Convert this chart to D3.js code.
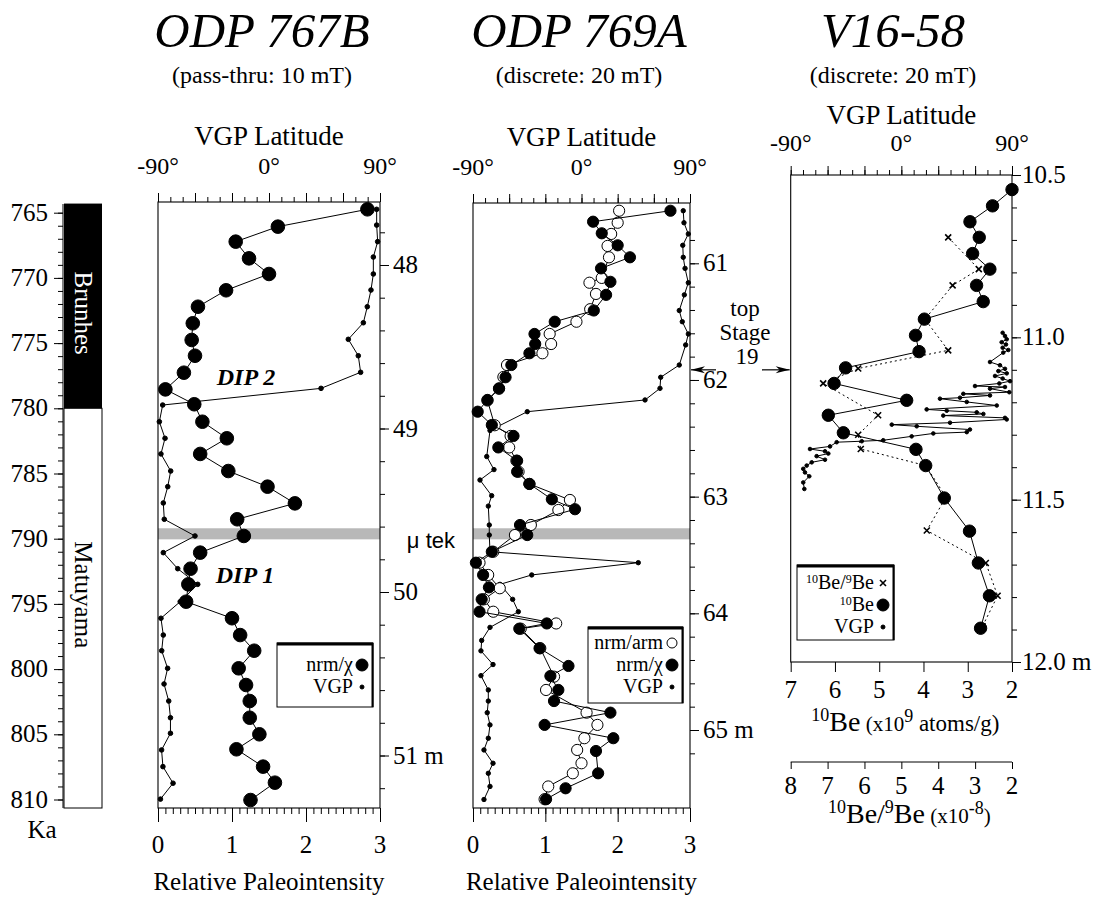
<!DOCTYPE html>
<html>
<head>
<meta charset="utf-8">
<script src="https://cdn.jsdelivr.net/npm/d3@7"></script>
<style>
body { margin: 0; background: #fff; }
svg { display: block; }
text { font-family: "Liberation Serif", "Times New Roman", serif; fill: #000; }
</style>
</head>
<body>
<svg id="chart" width="1099" height="897"></svg>
<script>
// age axis (ka)
var ageTicks = [765, 770, 775, 780, 785, 790, 795, 800, 805, 810];

// ODP 767B: [age ka, nrm/chi] and [age ka, VGP latitude]
var p1Nrm = [[764.74,2.83],[766.07,1.62],[767.22,1.05],[768.5,1.23],[769.7,1.5],[770.95,0.92],[772.21,0.54],[773.48,0.47],[774.76,0.455],[775.97,0.5],[777.27,0.35],[778.55,0.1],[779.69,0.49],[781.03,0.6],[782.3,0.93],[783.5,0.57],[784.81,0.95],[786.01,1.48],[787.29,1.85],[788.51,1.07],[789.79,1.16],[791.07,0.57],[792.3,0.44],[793.5,0.41],[794.83,0.38],[796.1,1.0],[797.39,1.11],[798.59,1.3],[799.94,1.09],[801.22,1.19],[802.45,1.24],[803.73,1.24],[805.0,1.37],[806.15,1.06],[807.48,1.42],[808.71,1.58],[810.04,1.25]];
var p1Vgp = [[764.74,87.3],[765.95,87.3],[767.22,88.1],[768.4,84.6],[769.7,84.6],[770.93,82.7],[772.21,79.7],[773.44,76.5],[774.71,64.3],[775.97,72.4],[777.24,74.3],[778.47,42.2],[779.75,-86.2],[781.03,-88.9],[782.3,-84.3],[783.5,-87.6],[784.81,-79.7],[786.01,-82.1],[787.26,-85.7],[788.51,-84.9],[789.79,-60],[791.07,-85.7],[792.3,-74],[793.5,-57.8],[794.83,-72],[796.1,-87.6],[797.39,-85.7],[798.59,-87],[799.94,-82.2],[801.14,-85.1],[802.45,-81.3],[803.73,-79.9],[804.92,-79.9],[806.2,-87.1],[807.48,-86],[808.75,-77.8],[809.97,-88]];
var p1Depth = [48, 49, 50, 51];

// ODP 769A: nrm/chi, nrm/arm, VGP
var p2Nrm = [[764.85,2.73],[765.69,1.66],[766.58,1.78],[767.5,2.0],[768.42,2.17],[769.27,1.77],[770.3,1.9],[771.3,1.84],[772.5,1.67],[773.36,1.13],[774.3,0.85],[775.07,0.86],[775.78,0.78],[776.68,0.53],[777.62,0.45],[778.47,0.36],[779.36,0.2],[780.26,0.065],[781.28,0.26],[782.12,0.56],[783.0,0.35],[784.02,0.61],[784.86,0.61],[785.8,0.78],[786.98,1.09],[787.74,1.41],[788.95,0.65],[789.72,0.75],[791.0,0.26],[791.84,0.04],[792.78,0.14],[793.73,0.22],[794.65,0.12],[795.6,0.09],[796.5,1.02],[796.9,0.64],[798.4,0.92],[799.76,1.32],[800.53,1.07],[801.6,1.18],[802.45,1.12],[803.34,1.9],[804.28,0.99],[805.3,1.94],[806.28,1.7],[807.99,1.73],[809.14,1.28],[809.98,1.01]];
var p2Arm = [[764.85,2.02],[765.77,2.0],[766.63,1.91],[767.55,1.86],[768.42,1.88],[770.0,1.78],[770.37,1.61],[771.23,1.7],[772.4,1.62],[773.36,1.43],[774.3,1.06],[775.07,1.08],[775.78,0.96],[776.68,0.47],[777.6,0.42],[778.5,0.36],[779.4,0.2],[781.3,0.3],[782.12,0.52],[783.0,0.5],[784.02,0.6],[784.86,0.63],[785.8,0.78],[787.03,1.34],[787.8,1.18],[788.95,0.8],[789.72,0.58],[791.0,0.28],[791.84,0.09],[792.78,0.21],[793.8,0.37],[794.65,0.15],[795.6,0.28],[796.5,1.15],[796.9,0.66],[798.4,0.93],[800.58,1.12],[801.6,1.01],[803.34,1.57],[804.28,1.72],[805.3,1.54],[806.2,1.44],[807.22,1.5],[807.99,1.38],[809.0,1.04],[809.98,0.99]];
var p2Vgp = [[764.85,84.4],[765.77,85],[766.63,88.6],[767.5,84],[768.42,84.4],[769.27,85.9],[770.37,88.6],[771.3,85.3],[772.5,81.1],[773.36,83.6],[774.3,88.6],[775.14,86.4],[776.68,81.1],[777.62,65.7],[778.47,65.1],[779.36,52.7],[780.26,-45],[781.7,-75.9],[783.7,-78.6],[784.7,-72.6],[785.5,-84.2],[786.7,-74.5],[787.5,-77.3],[788.95,-76.5],[789.72,-76.5],[791.0,-75.9],[791.84,47.1],[792.78,-41.3],[793.5,-67.6],[794.65,-57.1],[795.6,-52.4],[796.8,-75.9],[797.8,-82.8],[798.6,-83.4],[799.65,-73.4],[800.5,-83.4],[801.6,-77.3],[802.45,-77.3],[803.34,-78.2],[804.28,-75.9],[805.3,-77.3],[806.2,-80.9],[807.22,-73.4],[807.99,-77.3],[809.0,-75.9],[810.0,-80.9]];
var p2Depth = [61, 62, 63, 64, 65];

// V16-58: [depth m, 10Be], [depth m, 10Be/9Be], [depth m, VGP latitude]
var p3Be = [[10.545,2.0],[10.595,2.44],[10.644,2.95],[10.692,2.74],[10.742,2.89],[10.79,2.5],[10.84,2.8],[10.89,2.65],[10.944,3.98],[10.994,4.18],[11.044,4.1],[11.094,5.76],[11.142,6.02],[11.194,4.38],[11.24,6.15],[11.294,5.81],[11.345,4.17],[11.395,3.95],[11.495,3.53],[11.597,2.96],[11.695,2.76],[11.796,2.51],[11.896,2.71]];
var p3Ratio = [[10.692,3.73],[10.79,2.9],[10.84,3.61],[10.944,4.36],[11.04,3.73],[11.096,6.17],[11.142,7.12],[11.24,5.63],[11.3,6.17],[11.344,6.1],[11.395,4.34],[11.492,3.79],[11.595,4.31],[11.695,2.71],[11.796,2.39],[11.89,2.8]];
var p3Vgp = [[10.986,82.4],[10.996,84.3],[11.006,85.7],[11.015,81.6],[11.022,85.1],[11.032,82.4],[11.039,87.0],[11.047,82.9],[11.076,72.1],[11.086,80.2],[11.097,84.3],[11.104,78.9],[11.111,85.7],[11.119,76.2],[11.127,82.4],[11.135,88.4],[11.142,79.7],[11.15,59.9],[11.153,84.3],[11.158,72.1],[11.169,87.8],[11.174,50.4],[11.179,72.1],[11.186,47.7],[11.189,31.4],[11.199,53.2],[11.21,77.6],[11.222,20.6],[11.226,36.9],[11.231,61.3],[11.236,66.7],[11.241,34.1],[11.248,84.3],[11.253,85.7],[11.263,39.6],[11.269,-7.8],[11.274,12.5],[11.284,55.8],[11.292,53.2],[11.296,26.0],[11.305,8.4],[11.317,-14.7],[11.32,-32.2],[11.323,-52.6],[11.336,-58.0],[11.344,-74.3],[11.351,-62.1],[11.358,-59.4],[11.366,-68.9],[11.377,-62.1],[11.385,-72.9],[11.395,-77.0],[11.405,-79.8],[11.416,-78.4],[11.428,-74.9],[11.447,-79.8],[11.467,-78.9]];
var p3Depth = [10.5, 11.0, 11.5, 12.0];
var beTicks = [7, 6, 5, 4, 3, 2];
var ratioTicks = [8, 7, 6, 5, 4, 3, 2];
var vgpLabels = [-90, 0, 90];
var intTicks = [0, 1, 2, 3];

var svg = d3.select("#chart");

var yAge = d3.scaleLinear().domain([765, 810]).range([212.7, 799.5]);

var p1 = {x0: 158, x1: 380, y0: 202, y1: 808};
var p2 = {x0: 473, x1: 690, y0: 203, y1: 808};
var p3 = {x0: 790.7, x1: 1012, y0: 175, y1: 662};

var xInt1 = d3.scaleLinear().domain([0, 3]).range([p1.x0, p1.x1]);
var xVgp1 = d3.scaleLinear().domain([-90, 90]).range([p1.x0, p1.x1]);
var yDep1 = d3.scaleLinear().domain([48, 51]).range([265, 755.5]);
var xInt2 = d3.scaleLinear().domain([0, 3]).range([p2.x0, p2.x1]);
var xVgp2 = d3.scaleLinear().domain([-90, 90]).range([p2.x0, p2.x1]);
var yDep2 = d3.scaleLinear().domain([61, 65]).range([263.3, 730]);
var yDep3 = d3.scaleLinear().domain([10.5, 12]).range([p3.y0, p3.y1]);
var xBe = d3.scaleLinear().domain([7, 2]).range([p3.x0, p3.x1]);
var xRatio = d3.scaleLinear().domain([8, 2]).range([p3.x0, p3.x1]);
var xVgp3 = d3.scaleLinear().domain([-90, 90]).range([p3.x0, p3.x1]);

function ticks(axis, x, y, values, size) {
    svg.append("g")
        .attr("transform", "translate(" + x + "," + y + ")")
        .call(axis.tickValues(values).tickSize(size).tickFormat(""))
        .call(function(g) {
            g.select(".domain").remove();
            g.selectAll("line").attr("stroke", "#000").attr("stroke-width", 1);
        });
}

function label(x, y, txt, size, anchor) {
    return svg.append("text")
        .attr("x", x).attr("y", y)
        .attr("text-anchor", anchor || "middle")
        .style("font-size", size + "px")
        .text(txt);
}

function frame(p) {
    svg.append("rect")
        .attr("x", p.x0).attr("y", p.y0)
        .attr("width", p.x1 - p.x0).attr("height", p.y1 - p.y0)
        .attr("fill", "none").attr("stroke", "#000").attr("stroke-width", 1.1);
}

// titles
[["ODP 767B", "(pass-thru: 10 mT)", 262], ["ODP 769A", "(discrete: 20 mT)", 579], ["V16-58", "(discrete: 20 mT)", 893]].forEach(function(t) {
    label(t[2], 47, t[0], 49).style("font-style", "italic");
    label(t[2], 83, t[1], 24);
});

// age axis and polarity
svg.append("line").attr("x1", 63).attr("x2", 63).attr("y1", 204).attr("y2", 808).attr("stroke", "#000");
ticks(d3.axisLeft(yAge), 63, 0, d3.range(765, 811, 1), 5);
ticks(d3.axisLeft(yAge), 63, 0, ageTicks, 9);
ageTicks.forEach(function(a) {
    label(48, yAge(a) + 8, a, 25, "end");
});
label(42, 838, "Ka", 25);

svg.append("rect").attr("x", 64).attr("width", 38)
    .attr("y", yAge(764.3)).attr("height", yAge(780) - yAge(764.3)).attr("fill", "#000");
svg.append("rect").attr("x", 64).attr("width", 38)
    .attr("y", yAge(780)).attr("height", 808 - yAge(780))
    .attr("fill", "#fff").attr("stroke", "#000").attr("stroke-width", 1);
svg.append("text").attr("transform", "translate(75," + yAge(772.7) + ") rotate(90)")
    .attr("text-anchor", "middle").style("font-size", "25px").style("fill", "#fff").text("Brunhes");
svg.append("text").attr("transform", "translate(75," + yAge(794.3) + ") rotate(90)")
    .attr("text-anchor", "middle").style("font-size", "25px").text("Matuyama");

// tephra band
[p1, p2].forEach(function(p) {
    svg.append("rect").attr("x", p.x0).attr("width", p.x1 - p.x0)
        .attr("y", yAge(789.2)).attr("height", yAge(790.05) - yAge(789.2))
        .attr("fill", "#b8b8b8");
});
label(455, 548, "\u03bc tek", 22, "end").style("font-family", "'Liberation Sans', Arial, sans-serif");

// panel axes for the two ODP sites
function odpAxes(p, xInt, xVgp, yDep, depths) {
    ticks(d3.axisBottom(xInt), 0, p.y1, d3.range(0, 3.01, 0.1), 6);
    ticks(d3.axisBottom(xInt), 0, p.y1, intTicks, 14);
    intTicks.forEach(function(v) { label(xInt(v), 853, v, 25); });
    label((p.x0 + p.x1) / 2, 890, "Relative Paleointensity", 25);

    ticks(d3.axisTop(xVgp), 0, p.y0, d3.range(-90, 91, 10), 5);
    ticks(d3.axisTop(xVgp), 0, p.y0, d3.range(-90, 91, 30), 9);
    vgpLabels.forEach(function(v) { label(xVgp(v), p.y0 - 28, v + "\u00b0", 24); });
    label((p.x0 + p.x1) / 2, p.y0 - 57, "VGP Latitude", 27);

    var d = yDep.domain();
    ticks(d3.axisRight(yDep), p.x1, 0, d3.range(d[0] - 0.2, d[1] + 0.21, 0.2).filter(function(v) {
        return yDep(v) > p.y0 && yDep(v) < p.y1;
    }), 5);
    ticks(d3.axisRight(yDep), p.x1, 0, depths, 9);
    depths.forEach(function(v, i) {
        label(p.x1 + 13, yDep(v) + 8, v + (i === depths.length - 1 ? " m" : ""), 25, "start");
    });
    frame(p);
}
odpAxes(p1, xInt1, xVgp1, yDep1, p1Depth);
odpAxes(p2, xInt2, xVgp2, yDep2, p2Depth);

// V16-58 axes
ticks(d3.axisTop(xVgp3), 0, p3.y0, d3.range(-90, 91, 10), 5);
ticks(d3.axisTop(xVgp3), 0, p3.y0, d3.range(-90, 91, 30), 9);
vgpLabels.forEach(function(v) { label(xVgp3(v), p3.y0 - 24, v + "\u00b0", 24); });
label((p3.x0 + p3.x1) / 2, p3.y0 - 51, "VGP Latitude", 27);
ticks(d3.axisRight(yDep3), p3.x1, 0, d3.range(10.5, 12.01, 0.1), 5);
ticks(d3.axisRight(yDep3), p3.x1, 0, p3Depth, 9);
p3Depth.forEach(function(v, i) {
    label(p3.x1 + 10, yDep3(v) + 8, d3.format(".1f")(v) + (i === 3 ? " m" : ""), 25, "start");
});
ticks(d3.axisBottom(xBe), 0, p3.y1, beTicks, 10);
beTicks.forEach(function(v) { label(xBe(v), p3.y1 + 36, v, 25); });
var t1 = label((p3.x0 + p3.x1) / 2 + 4, 731, "", 28);
t1.append("tspan").attr("dy", -10).style("font-size", "18px").text("10");
t1.append("tspan").attr("dy", 10).text("Be");
t1.append("tspan").style("font-size", "21px").text(" (x10");
t1.append("tspan").attr("dy", -9).style("font-size", "18px").text("9");
t1.append("tspan").attr("dy", 9).style("font-size", "23px").text(" atoms/g)");

svg.append("line").attr("x1", p3.x0).attr("x2", p3.x1).attr("y1", 762).attr("y2", 762).attr("stroke", "#000");
ticks(d3.axisBottom(xRatio), 0, 762, ratioTicks, 7);
ratioTicks.forEach(function(v) { label(xRatio(v), 794, v, 25); });
var t2 = label((p3.x0 + p3.x1) / 2 + 8, 823, "", 28);
t2.append("tspan").attr("dy", -10).style("font-size", "18px").text("10");
t2.append("tspan").attr("dy", 10).text("Be/");
t2.append("tspan").attr("dy", -10).style("font-size", "18px").text("9");
t2.append("tspan").attr("dy", 10).text("Be");
t2.append("tspan").style("font-size", "21px").text(" (x10");
t2.append("tspan").attr("dy", -9).style("font-size", "18px").text("-8");
t2.append("tspan").attr("dy", 9).style("font-size", "21px").text(")");
frame(p3);

// series
function series(data, xs, ys, opts) {
    var line = d3.line().x(function(d) { return xs(d[1]); }).y(function(d) { return ys(d[0]); });
    svg.append("path").datum(data).attr("d", line)
        .attr("fill", "none").attr("stroke", "#000").attr("stroke-width", 1)
        .attr("stroke-dasharray", opts.dash || null);
    if (opts.cross) {
        svg.append("g").selectAll("path").data(data).enter().append("path")
            .attr("transform", function(d) { return "translate(" + xs(d[1]) + "," + ys(d[0]) + ")"; })
            .attr("d", "M-3,-3L3,3M-3,3L3,-3").attr("stroke", "#000").attr("stroke-width", 1.6);
    } else {
        svg.append("g").selectAll("circle").data(data).enter().append("circle")
            .attr("cx", function(d) { return xs(d[1]); })
            .attr("cy", function(d) { return ys(d[0]); })
            .attr("r", opts.r)
            .attr("fill", opts.open ? "#fff" : "#000")
            .attr("stroke", "#000").attr("stroke-width", 1);
    }
}

series(p1Vgp, xVgp1, yAge, {r: 2.3});
series(p1Nrm, xInt1, yAge, {r: 6.8});
series(p2Vgp, xVgp2, yAge, {r: 2.2});
series(p2Arm, xInt2, yAge, {r: 5.6, open: true});
series(p2Nrm, xInt2, yAge, {r: 5.6});
series(p3Vgp, xVgp3, yDep3, {r: 1.8});
series(p3Ratio, xRatio, yDep3, {cross: true, dash: "2,3"});
series(p3Be, xBe, yDep3, {r: 6.2});

// annotations
label(246, 385, "DIP 2", 24).style("font-weight", "bold").style("font-style", "italic");
label(245, 583, "DIP 1", 24).style("font-weight", "bold").style("font-style", "italic");
label(745, 316, "top", 23);
label(745, 340, "Stage", 23);
label(747, 364, "19", 23);

var yStage = yAge(777.05);
[[716, p2.x1 + 1], [762, p3.x0 - 1]].forEach(function(a) {
    var dir = a[1] > a[0] ? 1 : -1;
    svg.append("line").attr("x1", a[0]).attr("x2", a[1]).attr("y1", yStage).attr("y2", yStage)
        .attr("stroke", "#000").attr("stroke-width", 1.2);
    svg.append("path")
        .attr("d", "M" + a[1] + "," + yStage + "L" + (a[1] - dir * 14) + "," + (yStage - 3.5) +
            "L" + (a[1] - dir * 10) + "," + yStage + "L" + (a[1] - dir * 14) + "," + (yStage + 3.5) + "Z")
        .attr("fill", "#000");
});

// legends
function legend(x, y, w, h, rows) {
    svg.append("rect").attr("x", x).attr("y", y).attr("width", w).attr("height", h)
        .attr("fill", "#fff").attr("stroke", "#000").attr("stroke-width", 1);
    svg.append("line").attr("x1", x).attr("x2", x + w).attr("y1", y + 1).attr("y2", y + 1)
        .attr("stroke", "#000").attr("stroke-width", 3);
    svg.append("line").attr("x1", x + w - 0.5).attr("x2", x + w - 0.5).attr("y1", y).attr("y2", y + h)
        .attr("stroke", "#000").attr("stroke-width", 2);
    rows.forEach(function(r) {
        var t = label(x + w - 20, r.y + 6, "", 20, "end");
        r.parts.forEach(function(p) {
            t.append("tspan").attr("dy", p.dy || 0).style("font-size", (p.size || 20) + "px").text(p.t);
        });
        var mx = x + w - 11;
        if (r.mark === "cross") {
            svg.append("path").attr("transform", "translate(" + mx + "," + r.y + ")")
                .attr("d", "M-3,-3L3,3M-3,3L3,-3").attr("stroke", "#000").attr("stroke-width", 1.6);
        } else {
            svg.append("circle").attr("cx", mx).attr("cy", r.y)
                .attr("r", r.mark === "big" ? 6 : r.mark === "open" ? 5 : 2)
                .attr("fill", r.mark === "open" ? "#fff" : "#000").attr("stroke", "#000");
        }
    });
}

legend(277, 643, 96, 64, [
    {y: 665, mark: "big", parts: [{t: "nrm/\u03c7"}]},
    {y: 687, mark: "small", parts: [{t: "VGP"}]}
]);
legend(588, 627, 95, 76, [
    {y: 643, mark: "open", parts: [{t: "nrm/arm"}]},
    {y: 665, mark: "big", parts: [{t: "nrm/\u03c7"}]},
    {y: 687, mark: "small", parts: [{t: "VGP"}]}
]);
legend(797, 565, 97, 75, [
    {y: 583, mark: "cross", parts: [{t: "10", size: 12, dy: -6}, {t: "Be/", dy: 6}, {t: "9", size: 12, dy: -6}, {t: "Be", dy: 6}]},
    {y: 605, mark: "big", parts: [{t: "10", size: 12, dy: -6}, {t: "Be", dy: 6}]},
    {y: 627, mark: "small", parts: [{t: "VGP"}]}
]);
</script>
</body>
</html>
